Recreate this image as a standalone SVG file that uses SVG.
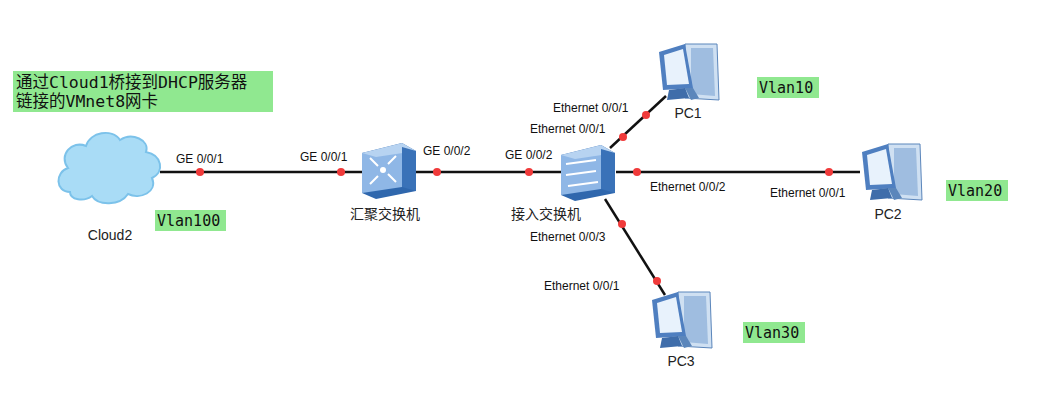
<svg xmlns="http://www.w3.org/2000/svg" width="1043" height="411" viewBox="0 0 1043 411">
<style>
.l{font-family:"Liberation Sans",Arial,sans-serif;font-size:12px;fill:#111}
.n{font-family:"Liberation Sans","Noto Sans CJK SC",sans-serif;font-size:14px;fill:#222;text-anchor:middle}
.m{font-family:"DejaVu Sans Mono","Noto Sans CJK SC",monospace;font-size:15px;fill:#111}
.t{font-family:"DejaVu Sans Mono","Noto Sans CJK SC",monospace;font-size:16.5px;fill:#111}
.g{fill:#90e890}
.c{stroke:#111;stroke-width:2.5;fill:none}
.d{fill:#f03a3a}
</style>
<defs>
<g id="pc">
<path d="M30 4 L62 4 L64 60 L30 58 Z" fill="#cfe0f2" stroke="#5b86bb"/>
<path d="M36 8 L58 8 L60 56 L36 54 Z" fill="#9fbde0"/>
<path d="M4 12 L30 4 L38 48 L8 50 Z" fill="#4f7fc0"/>
<path d="M9 15 L28 9 L34 44 L12 45 Z" fill="#e8f2fc"/>
<path d="M14 50 L30 48 L34 58 L12 60 Z" fill="#3f6daa"/>
<path d="M38 48 L30 48 L36 60 L44 58 Z" fill="#5b86bb"/>
</g>
<g id="sw">
<path d="M0 10 L40 0 L54 8 L54 48 L14 56 L0 50 Z" fill="#2f67ad"/>
<path d="M0 10 L40 4 L40 44 L0 50 Z" fill="#8fb7e6"/>
<path d="M0 10 L40 0 L54 8 L14 14 Z" fill="#b7d3f1"/>
<path d="M40 4 L54 8 L54 48 L40 44 Z" fill="#3a72b8"/>
</g>
</defs>
<rect class="g" x="13" y="71" width="260" height="41"/>
<text class="t" x="16" y="88">通过Cloud1桥接到DHCP服务器</text>
<text class="t" x="16" y="107">链接的VMnet8网卡</text>
<rect class="g" x="155" y="210" width="71" height="21"/>
<text class="m" x="157" y="226">Vlan100</text>
<rect class="g" x="757" y="77" width="62" height="21"/>
<text class="m" x="759" y="93">Vlan10</text>
<rect class="g" x="946" y="180" width="62" height="21"/>
<text class="m" x="948" y="196">Vlan20</text>
<rect class="g" x="743" y="322" width="62" height="21"/>
<text class="m" x="745" y="338">Vlan30</text>
<g id="connectors">
<line class="c" x1="160" y1="172" x2="362" y2="172"/>
<line class="c" x1="415" y1="172" x2="562" y2="172"/>
<line class="c" x1="616" y1="172" x2="860" y2="172"/>
<line class="c" x1="610" y1="148" x2="666" y2="96"/>
<line class="c" x1="605" y1="199" x2="665" y2="295"/>
<circle class="d" cx="200" cy="172" r="4"/><circle class="d" cx="341" cy="172" r="4"/>
<circle class="d" cx="437" cy="172" r="4"/><circle class="d" cx="529" cy="172" r="4"/>
<circle class="d" cx="637" cy="172" r="4"/><circle class="d" cx="829" cy="172" r="4"/>
<circle class="d" cx="623" cy="137" r="4"/><circle class="d" cx="646" cy="115" r="4"/>
<circle class="d" cx="622" cy="224" r="4"/><circle class="d" cx="657" cy="281" r="4"/>
<text class="l" x="176" y="163">GE 0/0/1</text>
<text class="l" x="300" y="161">GE 0/0/1</text>
<text class="l" x="423" y="155">GE 0/0/2</text>
<text class="l" x="505" y="159">GE 0/0/2</text>
<text class="l" x="553" y="112">Ethernet 0/0/1</text>
<text class="l" x="530" y="133">Ethernet 0/0/1</text>
<text class="l" x="650" y="191">Ethernet 0/0/2</text>
<text class="l" x="770" y="197">Ethernet 0/0/1</text>
<text class="l" x="530" y="241">Ethernet 0/0/3</text>
<text class="l" x="544" y="290">Ethernet 0/0/1</text>
</g>
<g id="cloud2">
<path d="M70 192 C55 192 55 172 68 168 C58 155 72 140 86 146 C90 132 112 128 120 140 C132 132 150 140 146 152 C162 155 165 172 152 178 C158 192 140 200 128 194 C120 206 98 206 92 196 C84 202 70 200 70 192 Z" fill="#a9dcf6" stroke="#7cc2ea" stroke-width="2"/>
<text class="n" x="110" y="240">Cloud2</text>
</g>
<g id="sw1">
<use href="#sw" x="362" y="143"/>
<g stroke="#fff" stroke-width="2" fill="none"><path d="M370 158 l8 8 M396 156 l-8 8 M370 184 l8 -8 M396 182 l-8 -8"/></g>
<circle cx="383" cy="170" r="3" fill="#fff"/>
<text class="n" x="385" y="219">汇聚交换机</text>
</g>
<g id="sw2">
<use href="#sw" x="561" y="145"/>
<g stroke="#fff" stroke-width="2" fill="none"><path d="M566 164 L596 160 M566 175 L596 171 M568 186 L598 182"/></g>
<text class="n" x="546" y="219">接入交换机</text>
</g>
<g id="pc1"><use href="#pc" x="655" y="40"/><text class="n" x="688" y="118">PC1</text></g>
<g id="pc2"><use href="#pc" x="858" y="140"/><text class="n" x="888" y="219">PC2</text></g>
<g id="pc3"><use href="#pc" x="648" y="288"/><text class="n" x="681" y="366">PC3</text></g>
</svg>
